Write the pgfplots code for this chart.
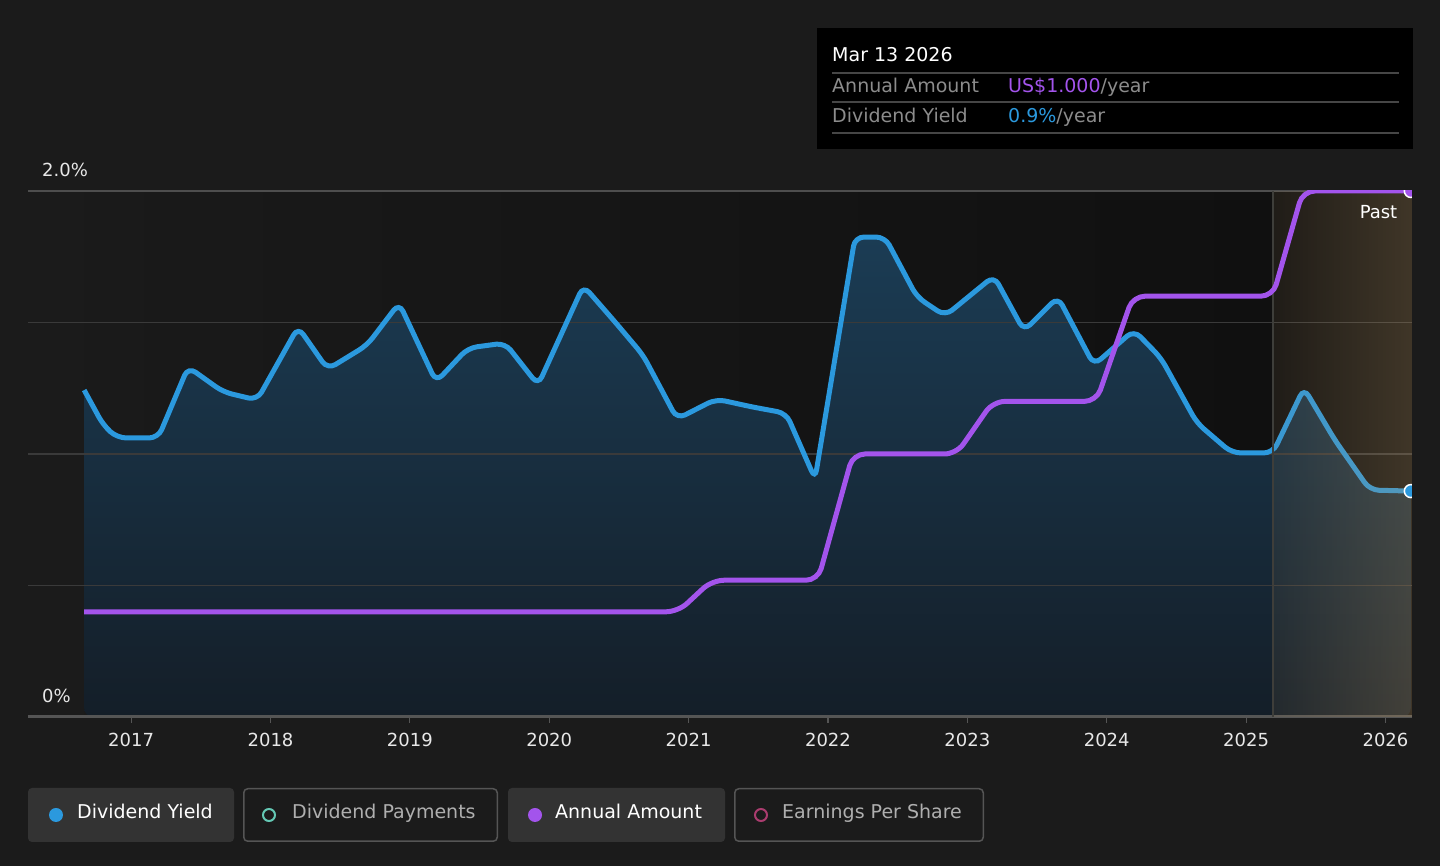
\documentclass[border=0pt]{standalone}
\usepackage{fontspec}
\setmainfont{DejaVu Sans}
\usepackage{pgfplots}
\pgfplotsset{compat=1.18}
\usepackage{pgfplotstable}
\usetikzlibrary{fadings}
\definecolor{bg}{RGB}{27,27,27}
\definecolor{bgdl}{RGB}{26,26,26}
\definecolor{bgdr}{RGB}{16,16,16}
\definecolor{gridc}{RGB}{58,58,58}
\definecolor{gridtop}{RGB}{78,78,78}
\definecolor{axisc}{RGB}{85,85,85}
\definecolor{dyblue}{RGB}{43,153,222}
\definecolor{aapurple}{RGB}{163,84,236}
\definecolor{fillt}{RGB}{27,60,84}
\definecolor{fillb}{RGB}{20,30,40}
\definecolor{pasttan}{RGB}{184,150,100}
\definecolor{pastline}{RGB}{62,62,58}
\definecolor{ttgrey}{RGB}{140,140,140}
\definecolor{ttsep}{RGB}{70,70,70}
\definecolor{btnact}{RGB}{51,51,51}
\definecolor{btnborder}{RGB}{85,85,85}
\definecolor{btntext}{RGB}{175,175,175}
\definecolor{teal}{RGB}{100,200,180}
\definecolor{maroon}{RGB}{170,60,110}
\definecolor{ticktext}{RGB}{232,232,232}
\begin{tikzfadingfrompicture}[name=pastfade]
  \shade[left color=transparent!100, right color=transparent!62] (-50bp,-50bp) rectangle (50bp,50bp);
\end{tikzfadingfrompicture}

\pgfplotstableread{
x y
2016.663 1.243
2016.800 1.110
2016.900 1.061
2017.194 1.061
2017.409 1.331
2017.660 1.236
2017.904 1.205
2018.198 1.483
2018.410 1.322
2018.693 1.414
2018.923 1.574
2019.188 1.274
2019.417 1.403
2019.683 1.422
2019.920 1.262
2020.245 1.640
2020.472 1.502
2020.673 1.376
2020.917 1.133
2021.197 1.209
2021.455 1.179
2021.700 1.155
2021.907 0.905
2022.194 1.825
2022.409 1.825
2022.638 1.597
2022.840 1.525
2023.191 1.677
2023.406 1.468
2023.650 1.597
2023.908 1.338
2024.195 1.471
2024.389 1.365
2024.647 1.118
2024.898 1.004
2025.192 1.004
2025.415 1.251
2025.637 1.053
2025.888 0.863
2026.182 0.859
}\yield

% annual amount, drawn on the yield scale (US$1.000 = 2.0)
\pgfplotstableread{
x y
2016.663 0.40
2020.924 0.40
2021.168 0.52
2021.928 0.52
2022.179 1.00
2022.922 1.00
2023.184 1.20
2023.926 1.20
2024.188 1.60
2025.192 1.60
2025.407 2.00
2026.182 2.00
}\amount

\begin{document}
\begin{tikzpicture}[x=1pt,y=1pt]
\useasboundingbox (0,0) rectangle (1440,866);
\fill[bg] (0,0) rectangle (1440,866);

\begin{axis}[
  at={(28pt,149pt)}, anchor=south west,
  scale only axis, width=1384pt, height=526pt,
  xmin=2016.26, xmax=2026.19, ymin=0, ymax=2,
  axis x line=bottom, axis y line=none,
  x axis line style={-, draw=axisc, line width=1.5pt},
  xtick={2017,2018,2019,2020,2021,2022,2023,2024,2025,2026},
  xticklabels={2017,2018,2019,2020,2021,2022,2023,2024,2025,2026},
  xticklabel style={font=\fontsize{18}{18}\selectfont, text=ticktext, yshift=-7pt},
  ytick=\empty,
  tick align=outside, major tick length=6pt,
  x tick style={draw=axisc, line width=1.2pt},
  clip marker paths=true,
]
% plot background
\fill[left color=bgdl, right color=bgdr] (axis cs:2016.663,0) rectangle (axis cs:2025.192,2);
\fill[bgdr] (axis cs:2025.192,0) rectangle (axis cs:2026.19,2);

% dividend yield area
\addplot[draw=none, top color=fillt, bottom color=fillb, rounded corners=9pt] table[x=x,y=y] {\yield} \closedcycle;

% grid lines
\draw[gridc, line width=1.2pt] (rel axis cs:0,0.25) -- (rel axis cs:1,0.25);
\draw[gridc, line width=1.2pt] (rel axis cs:0,0.5) -- (rel axis cs:1,0.5);
\draw[gridc, line width=1.2pt] (rel axis cs:0,0.75) -- (rel axis cs:1,0.75);
\draw[gridtop, line width=2.4pt] (rel axis cs:0,1) -- (rel axis cs:1,1);
\draw[axisc, line width=3pt] (rel axis cs:0,0) -- (rel axis cs:1,0);

% dividend yield line
\addplot[dyblue, line width=5pt, rounded corners=9pt] table[x=x,y=y] {\yield};

% past overlay
\fill[pasttan, path fading=pastfade] (axis cs:2025.192,0) rectangle (axis cs:2026.19,2);
\draw[pastline, line width=1.5pt] (axis cs:2025.192,0) -- (axis cs:2025.192,2);

% annual amount line
\addplot[aapurple, line width=5pt, rounded corners=12pt] table[x=x,y=y] {\amount};

% end markers
\addplot[only marks, mark=*, mark size=6.5pt, mark options={fill=aapurple, draw=white, line width=1.5pt}] coordinates {(2026.182,2.00)};
\addplot[only marks, mark=*, mark size=6.5pt, mark options={fill=dyblue, draw=white, line width=1.5pt}] coordinates {(2026.182,0.859)};

\node[anchor=base east, inner sep=0, text=white, font=\fontsize{18}{18}\selectfont] at (axis cs:2026.086,1.8935) {Past};
\end{axis}

% y labels
\node[anchor=base west, inner sep=0, text=ticktext, font=\fontsize{18}{18}\selectfont] at (42,689) {2.0\%};
\node[anchor=base west, inner sep=0, text=ticktext, font=\fontsize{18}{18}\selectfont] at (42,163) {0\%};

% tooltip
\fill[black] (817,717) rectangle (1413,838);
\node[anchor=base west, inner sep=0, text=white, font=\fontsize{19}{19}\selectfont] at (832,804) {Mar 13 2026};
\draw[ttsep, line width=1.5pt] (832,793) -- (1399,793);
\node[anchor=base west, inner sep=0, text=ttgrey, font=\fontsize{19}{19}\selectfont] at (832,773) {Annual Amount};
\node[anchor=base west, inner sep=0, font=\fontsize{19}{19}\selectfont] at (1008,773) {\textcolor{aapurple}{US\$1.000}\textcolor{ttgrey}{/year}};
\draw[ttsep, line width=1.5pt] (832,764) -- (1399,764);
\node[anchor=base west, inner sep=0, text=ttgrey, font=\fontsize{19}{19}\selectfont] at (832,743) {Dividend Yield};
\node[anchor=base west, inner sep=0, font=\fontsize{19}{19}\selectfont] at (1008,743) {\textcolor{dyblue}{0.9\%}\textcolor{ttgrey}{/year}};
\draw[ttsep, line width=1.5pt] (832,733) -- (1399,733);

% legend buttons
\fill[btnact, rounded corners=4pt] (28,24) rectangle (234,78);
\draw[btnborder, line width=1.5pt, rounded corners=4pt] (243.75,24.75) rectangle (497.25,77.25);
\fill[btnact, rounded corners=4pt] (508,24) rectangle (725,78);
\draw[btnborder, line width=1.5pt, rounded corners=4pt] (734.75,24.75) rectangle (983.25,77.25);

\fill[dyblue] (56,51) circle (7);
\draw[teal, line width=2pt] (269,51) circle (6);
\fill[aapurple] (535,51) circle (7);
\draw[maroon, line width=2pt] (761,51) circle (6);

\node[anchor=base west, inner sep=0, text=white, font=\fontsize{19}{19}\selectfont] at (77,47) {Dividend Yield};
\node[anchor=base west, inner sep=0, text=btntext, font=\fontsize{19}{19}\selectfont] at (292,47) {Dividend Payments};
\node[anchor=base west, inner sep=0, text=white, font=\fontsize{19}{19}\selectfont] at (555,47) {Annual Amount};
\node[anchor=base west, inner sep=0, text=btntext, font=\fontsize{19}{19}\selectfont] at (782,47) {Earnings Per Share};
\end{tikzpicture}
\end{document}
